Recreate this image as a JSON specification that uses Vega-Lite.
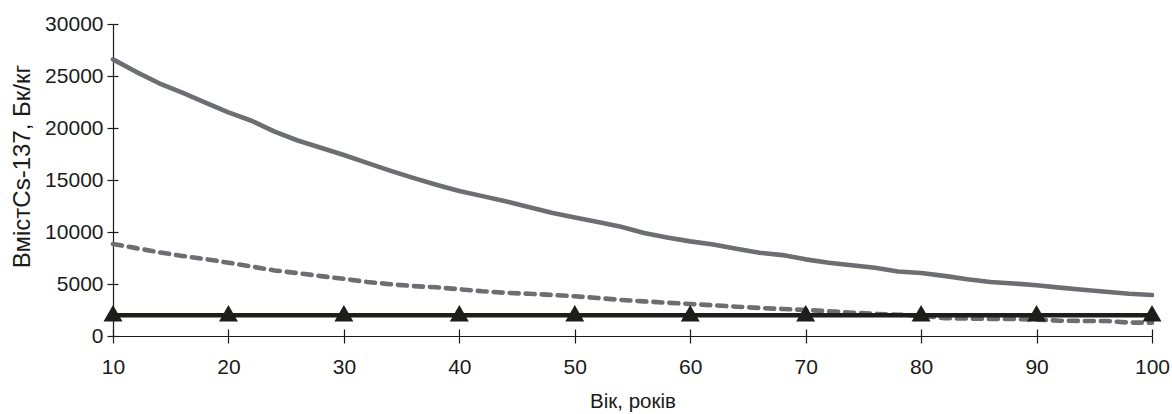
{
  "$schema": "https://vega.github.io/schema/vega-lite/v6.json",
  "width": 1039,
  "height": 312,
  "autosize": {"type": "none"},
  "padding": {"left": 113, "top": 24, "right": 20, "bottom": 78},
  "background": "white",
  "config": {
    "view": {"stroke": null},
    "axis": {
      "labelFont": "Liberation Sans",
      "titleFont": "Liberation Sans",
      "labelColor": "#1a1a1a",
      "titleColor": "#1a1a1a",
      "domainColor": "#1a1a1a",
      "tickColor": "#1a1a1a",
      "gridColor": "#1a1a1a",
      "gridOpacity": 1,
      "gridWidth": 1.2,
      "domainWidth": 1.2,
      "tickWidth": 1.2,
      "labelFontSize": 21,
      "labelFlush": false,
      "titleFontWeight": "normal"
    }
  },
  "datasets": {
    "solid": [
      {"age": 10, "value": 26600}, {"age": 12, "value": 25400}, {"age": 14, "value": 24300},
      {"age": 16, "value": 23400}, {"age": 18, "value": 22450}, {"age": 20, "value": 21500},
      {"age": 22, "value": 20700}, {"age": 24, "value": 19650}, {"age": 26, "value": 18800},
      {"age": 28, "value": 18100}, {"age": 30, "value": 17400}, {"age": 32, "value": 16650},
      {"age": 34, "value": 15900}, {"age": 36, "value": 15200}, {"age": 38, "value": 14550},
      {"age": 40, "value": 13950}, {"age": 42, "value": 13450}, {"age": 44, "value": 12950},
      {"age": 46, "value": 12400}, {"age": 48, "value": 11850}, {"age": 50, "value": 11400},
      {"age": 52, "value": 10950}, {"age": 54, "value": 10500}, {"age": 56, "value": 9900},
      {"age": 58, "value": 9480}, {"age": 60, "value": 9100}, {"age": 62, "value": 8800},
      {"age": 64, "value": 8380}, {"age": 66, "value": 8000}, {"age": 68, "value": 7780},
      {"age": 70, "value": 7370}, {"age": 72, "value": 7050}, {"age": 74, "value": 6800},
      {"age": 76, "value": 6570}, {"age": 78, "value": 6200}, {"age": 80, "value": 6050},
      {"age": 82, "value": 5780}, {"age": 84, "value": 5450}, {"age": 86, "value": 5200},
      {"age": 88, "value": 5050}, {"age": 90, "value": 4880}, {"age": 92, "value": 4650},
      {"age": 94, "value": 4450}, {"age": 96, "value": 4260}, {"age": 98, "value": 4060},
      {"age": 100, "value": 3940}
    ],
    "dashed": [
      {"age": 10, "value": 8850}, {"age": 12, "value": 8450}, {"age": 14, "value": 8050},
      {"age": 16, "value": 7700}, {"age": 18, "value": 7400}, {"age": 20, "value": 7050},
      {"age": 22, "value": 6680}, {"age": 24, "value": 6300}, {"age": 26, "value": 6050},
      {"age": 28, "value": 5760}, {"age": 30, "value": 5500}, {"age": 32, "value": 5200},
      {"age": 34, "value": 4980}, {"age": 36, "value": 4800}, {"age": 38, "value": 4680},
      {"age": 40, "value": 4500}, {"age": 42, "value": 4300}, {"age": 44, "value": 4150},
      {"age": 46, "value": 4060}, {"age": 48, "value": 3950}, {"age": 50, "value": 3820},
      {"age": 52, "value": 3650}, {"age": 54, "value": 3470}, {"age": 56, "value": 3330},
      {"age": 58, "value": 3200}, {"age": 60, "value": 3080}, {"age": 62, "value": 2950},
      {"age": 64, "value": 2820}, {"age": 66, "value": 2700}, {"age": 68, "value": 2600},
      {"age": 70, "value": 2500}, {"age": 72, "value": 2380}, {"age": 74, "value": 2240},
      {"age": 76, "value": 2130}, {"age": 78, "value": 2050}, {"age": 80, "value": 1950},
      {"age": 82, "value": 1720}, {"age": 84, "value": 1680}, {"age": 86, "value": 1640},
      {"age": 88, "value": 1630}, {"age": 90, "value": 1580}, {"age": 92, "value": 1470},
      {"age": 94, "value": 1450}, {"age": 96, "value": 1440}, {"age": 98, "value": 1290},
      {"age": 100, "value": 1280}
    ],
    "base": [
      {"age": 10, "value": 2000}, {"age": 20, "value": 2000}, {"age": 30, "value": 2000},
      {"age": 40, "value": 2000}, {"age": 50, "value": 2000}, {"age": 60, "value": 2000},
      {"age": 70, "value": 2000}, {"age": 80, "value": 2000}, {"age": 90, "value": 2000},
      {"age": 100, "value": 2000}
    ]
  },
  "layer": [
    {
      "data": {"name": "solid"},
      "mark": {"type": "line", "color": "#6d6e71", "strokeWidth": 4.6, "strokeCap": "round", "strokeJoin": "round"},
      "encoding": {
        "x": {
          "field": "age", "type": "quantitative",
          "scale": {"domain": [10, 100], "nice": false, "zero": false},
          "axis": {
            "orient": "bottom",
            "values": [10, 20, 30, 40, 50, 60, 70, 80, 90, 100],
            "grid": true, "gridDash": [0, 305, 7, 4000],
            "tickSize": 7, "labelPadding": 13,
            "title": "Вік, років", "titleFontSize": 20.5,
            "titleX": 519.5, "titleY": 71, "titleBaseline": "alphabetic", "titleAlign": "center"
          }
        },
        "y": {
          "field": "value", "type": "quantitative",
          "scale": {"domain": [0, 30000], "nice": false},
          "axis": {
            "orient": "left",
            "values": [0, 5000, 10000, 15000, 20000, 25000, 30000],
            "grid": true, "gridDash": [5, 4000],
            "format": "d", "tickSize": 6, "labelPadding": 4,
            "title": "ВмістCs-137, Бк/кг", "titleFontSize": 24,
            "titleX": -91, "titleY": 142, "titleAngle": -90, "titleAlign": "center", "titleBaseline": "middle"
          }
        }
      }
    },
    {
      "data": {"name": "dashed"},
      "mark": {"type": "line", "color": "#6d6e71", "strokeWidth": 4.6, "strokeCap": "round", "strokeDash": [9, 7]},
      "encoding": {
        "x": {"field": "age", "type": "quantitative"},
        "y": {"field": "value", "type": "quantitative"}
      }
    },
    {
      "data": {"name": "base"},
      "mark": {"type": "line", "color": "#1d1d1b", "strokeWidth": 4.6},
      "encoding": {
        "x": {"field": "age", "type": "quantitative"},
        "y": {"field": "value", "type": "quantitative"}
      }
    },
    {
      "data": {"name": "base"},
      "mark": {"type": "point", "shape": "triangle-up", "filled": true, "size": 360, "color": "#1d1d1b", "opacity": 1, "yOffset": -2},
      "encoding": {
        "x": {"field": "age", "type": "quantitative"},
        "y": {"field": "value", "type": "quantitative"}
      }
    }
  ]
}
